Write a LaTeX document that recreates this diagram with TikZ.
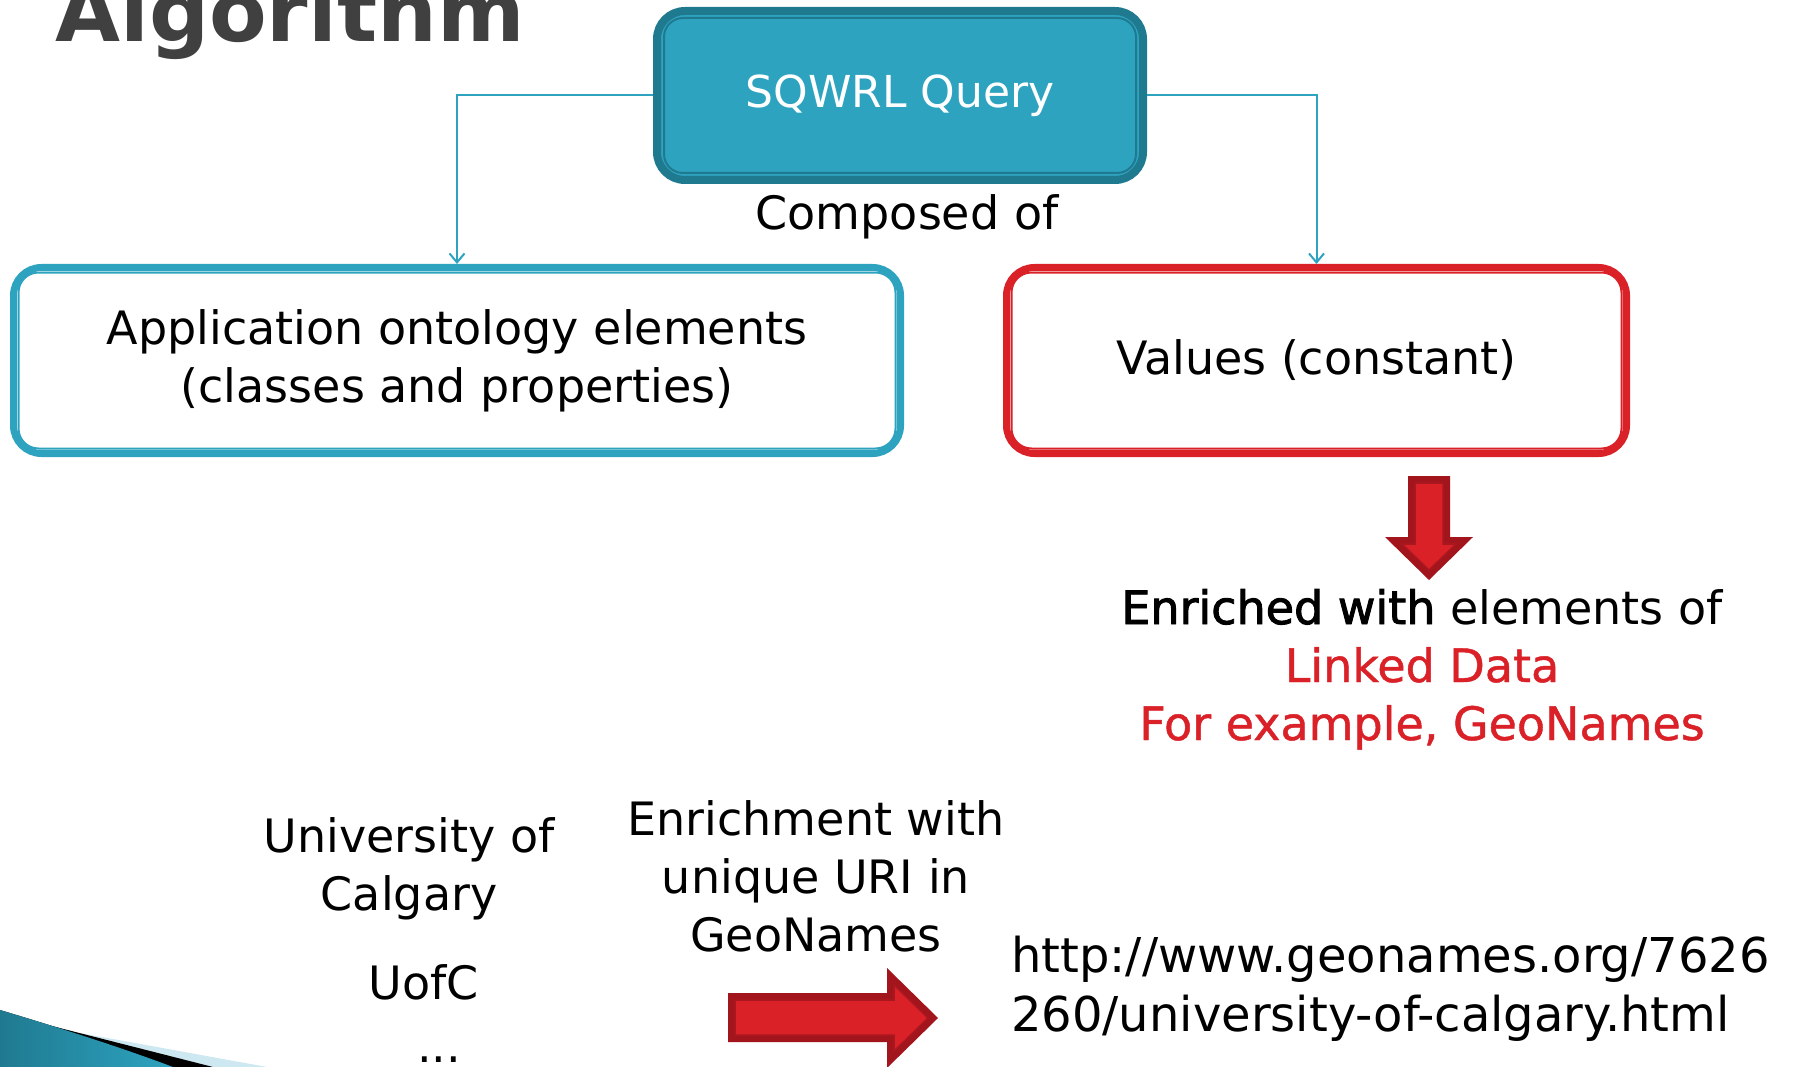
\documentclass[tikz,border=0pt]{standalone}
\usepackage{fontspec}
\setmainfont{DejaVu Sans}
\newfontfamily\strongfont[FakeBold=2]{DejaVu Sans}
\newfontfamily\medfont[FakeBold=1]{DejaVu Sans}
\usetikzlibrary{arrows.meta}
\definecolor{teal1}{RGB}{46,163,192}
\definecolor{tealdark}{RGB}{31,122,144}
\definecolor{red1}{RGB}{218,33,40}
\definecolor{reddark}{RGB}{163,21,29}
\definecolor{titlegray}{RGB}{64,64,64}
\definecolor{lightblue}{RGB}{205,232,241}
\begin{document}
\begin{tikzpicture}[x=1pt,y=-1pt,
  body/.style={font=\fontsize{46}{58}\selectfont, text=black, inner sep=0pt, align=center},
  framebox/.style={rounded corners=28pt, line width=7pt, fill=white, inner sep=0pt,
    align=center, font=\fontsize{46}{58}\selectfont, text=black},
  innerline/.style={line width=2pt, rounded corners=20pt},
  link/.style={teal1, line width=2pt, -{Straight Barb[length=9pt,width=15pt,line width=2pt]}},
  blockarrow/.style={fill=reddark},
  blockinner/.style={fill=red1, draw=reddark!85!red1, line width=1.5pt}
]
\useasboundingbox (0,0) rectangle (1795,1067);
\fill[white] (0,0) rectangle (1795,1067);

% title
\node[anchor=base west, inner sep=0pt, text=titlegray,
  font=\fontsize{84}{90}\selectfont\bfseries] (title) at (55,42) {Algorithm};

% top box
\node[rounded corners=28pt, line width=8pt, draw=tealdark, fill=teal1,
  minimum width=486pt, minimum height=169pt, inner sep=0pt,
  font=\fontsize{44}{56}\selectfont, text=white] (sq) at (900,95.5) {SQWRL Query};
\draw[tealdark, line width=2pt, rounded corners=19pt]
  ([shift={(11,11)}]sq.north west) rectangle ([shift={(-11,-11)}]sq.south east);

% boxes
\node[framebox, draw=teal1, minimum width=887pt, minimum height=186pt]
  (app) at (457,360.5) {Application ontology elements\\(classes and properties)};
\draw[innerline, teal1]
  ([shift={(8.5,8.5)}]app.north west) rectangle ([shift={(-8.5,-8.5)}]app.south east);

\node[framebox, draw=red1, minimum width=620pt, minimum height=186pt]
  (val) at (1316.5,360.5) {Values (constant)};
\draw[innerline, red1]
  ([shift={(8.5,8.5)}]val.north west) rectangle ([shift={(-8.5,-8.5)}]val.south east);

% connectors
\draw[link] (sq.west) -| (app.north);
\draw[link] (sq.east) -| (val.north);

\node[body, anchor=base] (comp) at (907,230) {Composed of};

% down block arrow
\fill[blockarrow] (1408,476) -- (1450,476) -- (1450,537) -- (1473,537) -- (1429,580)
  -- (1385,537) -- (1408,537) -- cycle;
\filldraw[blockinner] (1415,483) -- (1443,483) -- (1443,544) -- (1456,544) -- (1429,570)
  -- (1402,544) -- (1415,544) -- cycle;

\node[body, anchor=base] (enr) at (1422,740)
  {{\strongfont Enriched with} elements of\\
   {\medfont\color{red1}Linked Data}\\
   {\medfont\color{red1}For example, GeoNames}};

% bottom texts
\node[body, anchor=base] (uni) at (409,910) {University of\\Calgary};
\node[body, anchor=base] (uofc) at (424,999) {UofC};
\node[body, anchor=base] (dots) at (439,1062) {...};
\node[body, anchor=base] (enrich) at (816,951) {Enrichment with\\unique URI in\\GeoNames};
\node[body, anchor=base west, align=left, font=\fontsize{48}{59}\selectfont] (url) at (1011,1031)
  {http://www.geonames.org/7626\\260/university-of-calgary.html};

% right block arrow
\fill[blockarrow] (728,993) -- (887,993) -- (887,968) -- (938,1018) -- (887,1068)
  -- (887,1042) -- (728,1042) -- cycle;
\filldraw[blockinner] (735,1000) -- (894,1000) -- (894,985) -- (928,1018) -- (894,1051)
  -- (894,1035) -- (735,1035) -- cycle;

% corner decoration
\fill[lightblue] (80,1033) -- (267,1067) -- (210,1067) -- cycle;
\fill[black] (48,1025) -- (213,1067) -- (170,1067) -- cycle;
\fill[left color=tealdark, right color=teal1] (0,1010) .. controls (60,1028) and (120,1047) .. (173,1067)
  -- (0,1067) -- cycle;
\end{tikzpicture}
\end{document}
